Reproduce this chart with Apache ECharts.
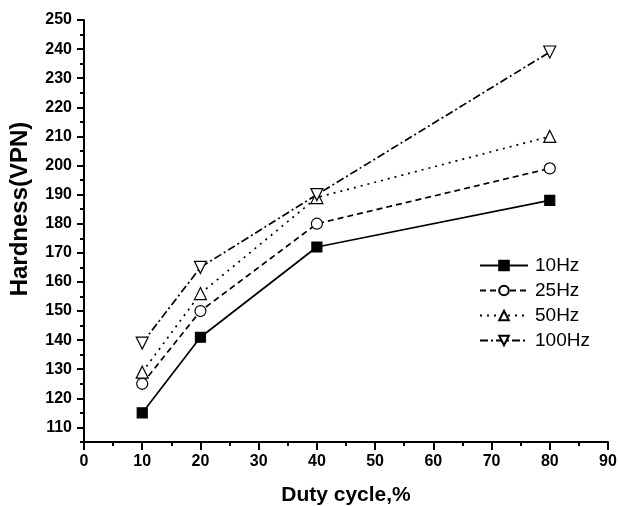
<!DOCTYPE html>
<html>
<head>
<meta charset="utf-8">
<script src="https://cdn.jsdelivr.net/npm/echarts@6/dist/echarts.min.js"></script>
<style>html,body{margin:0;padding:0;background:#fff}#c{width:619px;height:506px}</style>
</head>
<body>
<div id="c"></div>
<script>
var dutyCycle = [10, 20, 40, 80];
var hz10 = [115, 141, 172, 188];
var hz25 = [125, 150, 180, 199];
var hz50 = [129, 156, 189, 210];
var hz100 = [139, 165, 190, 239];
var seriesNames = ['10Hz', '25Hz', '50Hz', '100Hz'];
var yMajorTicks = [110,120,130,140,150,160,170,180,190,200,210,220,230,240,250];
var yMinorTicks = [105,115,125,135,145,155,165,175,185,195,205,215,225,235,245];

function pairs(vals){ return dutyCycle.map(function(x,i){ return [x, vals[i]]; }); }

var chart = echarts.init(document.getElementById('c'));
var font = 'Liberation Sans, Arial, sans-serif';
function mk(name, vals, symbol, size, fill, dash, rotate){
  return {
    name: name, type: 'line', data: pairs(vals), yAxisIndex: 0,
    symbol: symbol, symbolSize: size, symbolRotate: rotate || 0,
    showAllSymbol: true,
    lineStyle: {color: '#000', width: 1.7, type: dash},
    itemStyle: {color: fill, borderColor: '#000', borderWidth: 1.2},
    z: 3, animation: false
  };
}
chart.setOption({
  animation: false,
  backgroundColor: '#fff',
  grid: {left: 84, right: 11, top: 20, bottom: 64, containLabel: false, outerBoundsMode: 'none'},
  legend: {
    orient: 'vertical', left: 474, top: 251, itemGap: 6, itemWidth: 48, itemHeight: 12,
    data: seriesNames,
    textStyle: {fontFamily: font, fontSize: 19, color: '#000', padding: [0,0,0,2]},
    itemStyle: {}
  },
  xAxis: {
    type: 'value', min: 0, max: 90, interval: 10,
    name: 'Duty cycle,%', nameLocation: 'middle', nameGap: 43,
    nameTextStyle: {fontFamily: font, fontSize: 21, fontWeight: 'bold', color: '#000'},
    axisLine: {show: true, lineStyle: {color: '#000', width: 2}},
    axisTick: {show: true, inside: false, length: 8, lineStyle: {color: '#000', width: 2}},
    minorTick: {show: true, splitNumber: 2, length: 4, lineStyle: {color: '#000', width: 2}},
    axisLabel: {fontFamily: font, fontSize: 16, fontWeight: 'bold', color: '#000', margin: 12},
    splitLine: {show: false}
  },
  yAxis: [{
    type: 'value', min: 105, max: 250,
    name: 'Hardness(VPN)', nameLocation: 'middle', nameGap: 52,
    nameTextStyle: {fontFamily: font, fontSize: 24, fontWeight: 'bold', color: '#000', padding: [0,0,0,44]},
    axisLine: {show: true, lineStyle: {color: '#000', width: 2}},
    axisTick: {show: true, inside: false, length: 7, customValues: yMajorTicks, lineStyle: {color: '#000', width: 2}},
    axisLabel: {fontFamily: font, fontSize: 16, fontWeight: 'bold', color: '#000', margin: 12, customValues: yMajorTicks},
    splitLine: {show: false}
  }, {
    type: 'value', min: 105, max: 250, position: 'left',
    axisLine: {show: false},
    axisTick: {show: true, inside: false, length: 4, customValues: yMinorTicks, lineStyle: {color: '#000', width: 2}},
    axisLabel: {show: false},
    splitLine: {show: false}
  }],
  series: [
    mk('10Hz', hz10, 'rect', 10, '#000', 'solid'),
    mk('25Hz', hz25, 'circle', 11, '#fff', [6, 4]),
    mk('50Hz', hz50, 'triangle', 12, '#fff', [2, 5]),
    mk('100Hz', hz100, 'triangle', 12, '#fff', [8, 3, 2, 3], 180)
  ]
});
</script>
</body>
</html>
